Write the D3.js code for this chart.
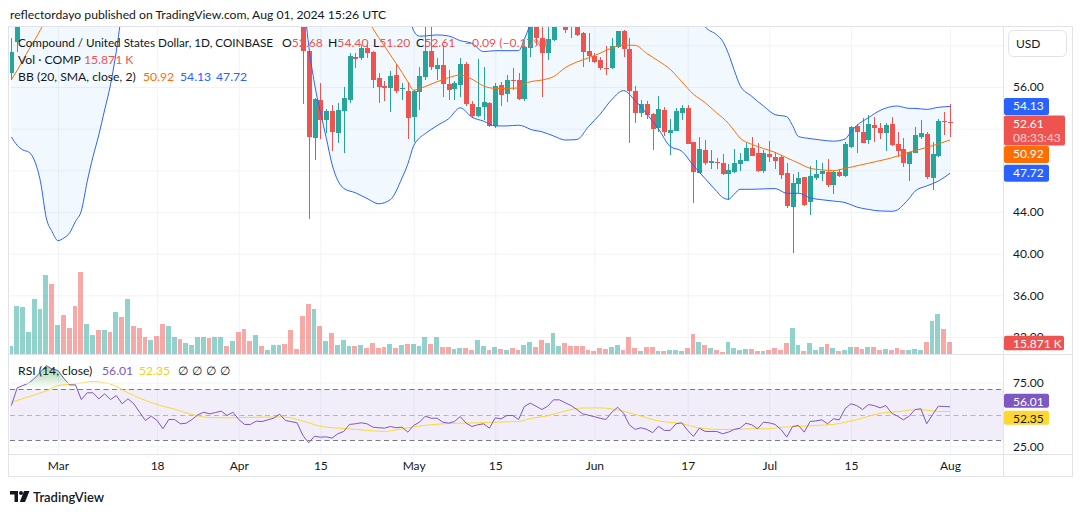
<!DOCTYPE html>
<html>
<head>
<meta charset="utf-8">
<title>COMP / USD</title>
<script src="https://cdn.jsdelivr.net/npm/d3@7"></script>
<style>
  body { margin: 0; background: #fff; }
  svg { display: block; }
  text { font-family: Lato, "Noto Sans", sans-serif; }
</style>
</head>
<body>
<svg id="chart" width="1080" height="515"></svg>
<script>
// ---------- data ----------
const firstDay = "2024-02-22";   // every daily series below starts here

// volume, thousands of COMP, one bar per day
const volumes = [
  10.7, 62.3, 61.0, 28.8, 71.3, 58.4, 102.3, 90.7, 37.8, 50.7,
  33.9, 62.3, 106.2, 39.1, 24.9, 31.3, 31.3, 28.8, 54.6, 48.1,
  71.3, 36.5, 33.9, 22.3, 18.4, 23.6, 39.1, 36.5, 22.3, 19.7,
  14.6, 12.0, 22.3, 22.3, 21.0, 22.3, 22.3, 10.7, 17.2, 28.8,
  32.6, 17.2, 24.9, 10.7, 5.5, 12.0, 12.0, 13.3, 31.3, 6.8,
  49.4, 64.9, 58.4, 36.5, 17.2, 27.5, 12.0, 18.4, 10.7, 10.7,
  12.0, 8.1, 14.6, 8.1, 9.4, 13.3, 8.1, 12.0, 13.3, 13.3,
  10.7, 22.3, 13.3, 22.3, 9.4, 9.4, 6.8, 8.1, 8.1, 5.5,
  18.4, 10.7, 5.5, 9.4,
  6.8, 5.5, 8.1, 5.5, 12.0, 15.9, 9.4, 18.4, 14.6, 27.5,
  10.7, 14.6, 10.7, 10.7, 10.7, 5.5, 4.3, 8.1, 6.8, 9.4,
  12.0, 5.5, 22.3, 8.1, 4.3, 9.4, 9.4, 4.3, 4.3, 5.5,
  5.5, 4.3, 8.1, 26.2, 15.9, 12.0, 8.1, 5.5, 3.0, 15.9,
  8.1, 5.5, 6.8, 6.8, 4.3, 4.3, 5.5, 8.1, 5.5, 14.6,
  33.9, 12.0, 4.3, 14.6, 5.5, 9.4, 13.3, 8.1, 4.3, 5.5,
  9.4, 9.4, 6.8, 9.4, 9.4, 5.5, 6.8, 5.5, 8.1, 5.5,
  5.5, 6.8, 5.5, 15.9, 43.0, 52.0, 32.6, 15.871
];
// g = up day, r = down day
const volumeDir =
  "gggggggrgr" + "rrrggrgrgr" + "grrrgrrggr" + "ggggrggrgr" + "rrgrgggrrr" +
  "rrgrgrgggr" + "grrrrgrgrg" + "ggrgrrggrr" + "ggrg" +
  "rgrrggrrgg" + "grrrrrrrrg" + "grrrgrrgrg" + "ggrrgrgrrg" + "gggrrgrrrr" +
  "ggrgggrgrg" + "grrgrrgrrr" + "gggrggrr";

// candles (null = above the visible price range, Feb 24 .. Apr 11)
const opens = [57.3, 60.35, ...Array(48).fill(null),
  63.0, 59.49, 51.1, 54.75, 52.83, 53.73, 51.6, 53.73, 54.75, 58.9, 58.75, 59.71, 59.33, 56.83, 56.1, 55.87, 57.15, 55.8, 55.65,
  53.15, 55.55, 56.99, 59.49, 57.7, 58.11, 56.29, 55.78, 56.19, 58.21, 54.37, 53.22, 54.05, 54.43, 52.26, 56.19, 55.33, 56.67, 56.67, 54.85,
  59.72, 62.6, 60.67, 59.24, 60.51, 62.3, 63.4, 62.4, 61.9, 61.21, 59.46,
  59.0, 58.59, 57.8, 57.8, 59.88, 61.41, 59.62, 55.65, 53.54, 54.37, 53.38, 52.04, 53.79, 51.61, 51.8, 53.54, 53.95, 50.69, 47.78, 49.95,
  48.67, 48.8, 48.67, 47.65, 47.88, 48.61, 48.93, 50.15, 49.7, 47.97,
  49.57, 49.31, 49.25, 47.72, 44.51, 46.69, 47.33, 44.99, 47.23, 47.65, 47.88, 46.6, 47.88, 47.46, 50.28, 52.26, 51.71, 50.91, 52.35, 52.1,
  51.55, 52.45, 50.53, 50.02, 48.61, 49.7, 51.23, 51.49, 47.3, 49.38, 52.77,
  52.68];
const highs = [60.7, 64.5, ...Array(48).fill(null),
  63.5, 59.6, 54.9, 56.35, 53.9, 54.27, 54.43, 55.97, 59.3, 59.3, 60.03, 60.19, 59.45, 57.38, 56.6, 57.57, 58.18, 56.35, 56.52,
  55.7, 57.96, 62.2, 62.4, 58.76, 60.03, 57.63, 56.6, 58.76, 58.44, 54.69, 58.66, 57.96, 54.6, 56.42, 56.52, 57.15, 57.8, 57.31, 60.5,
  63.5, 63.2, 62.5, 62.3, 63.0, 64.0, 63.8, 63.0, 62.6, 61.3, 61.15,
  59.24, 58.92, 59.94, 60.67, 61.38, 61.5, 60.67, 56.1, 54.75, 54.66, 53.54, 55.14, 54.05, 52.93, 53.95, 54.27, 54.27, 50.75, 51.17, 50.91,
  49.95, 49.21, 49.54, 48.61, 50.02, 49.7, 50.66, 51.17, 50.66, 49.95,
  50.85, 49.79, 49.47, 48.68, 47.65, 47.88, 47.4, 48.42, 48.99, 48.74, 49.06, 47.9, 48.1, 50.69, 52.26, 52.45, 53.0, 53.31, 53.15, 52.58,
  52.58, 53.09, 51.71, 51.07, 49.8, 52.2, 52.83, 51.71, 50.75, 52.9, 53.64,
  54.40];
const lows = [56.7, 59.4, ...Array(48).fill(null),
  54.4, 43.33, 48.99, 51.04, 51.6, 49.9, 50.65, 49.7, 54.43, 57.8, 58.6, 58.76, 55.87, 54.5, 54.66, 53.64, 55.46, 54.75, 50.98,
  50.75, 53.8, 56.67, 57.63, 56.67, 55.07, 54.75, 54.75, 55.07, 54.18, 53.15, 53.15, 52.83, 52.2, 52.04, 54.18, 54.59, 55.71, 54.75, 54.7,
  58.86, 60.0, 55.07, 58.6, 60.45, 62.0, 61.2, 60.67, 60.9, 57.96, 58.44,
  58.28, 57.63, 57.15, 57.75, 59.72, 58.86, 50.6, 52.58, 53.09, 52.9, 49.95, 51.71, 51.3, 49.47, 51.75, 52.83, 50.5, 44.84, 47.72, 48.51,
  48.13, 48.13, 47.6, 45.15, 47.78, 47.97, 48.9, 49.35, 47.88, 47.78,
  48.83, 48.1, 47.14, 44.35, 40.09, 45.8, 44.6, 43.71, 47.07, 47.0, 46.44, 45.73, 47.4, 47.33, 50.12, 49.64, 50.6, 50.5, 50.75, 50.98,
  49.89, 50.34, 49.31, 48.36, 47.0, 49.64, 51.0, 47.14, 46.11, 49.3, 51.39,
  51.20];
const closes = [59.4, 63.8, ...Array(48).fill(null),
  59.49, 51.17, 54.85, 52.83, 53.73, 51.71, 53.8, 54.91, 58.98, 58.7, 59.71, 59.3, 56.67, 56.03, 55.87, 57.06, 55.62, 55.87, 53.06,
  55.65, 57.06, 59.49, 57.89, 58.11, 56.29, 55.71, 56.42, 58.18, 54.37, 53.22, 54.05, 54.59, 52.26, 56.1, 55.23, 56.67, 56.58, 54.85, 59.81,
  62.6, 60.67, 59.3, 60.58, 62.3, 63.4, 61.47, 61.9, 61.0, 59.39, 59.0,
  58.44, 57.86, 57.73, 59.94, 61.38, 59.62, 55.65, 53.54, 54.37, 53.31, 52.0, 53.86, 51.71, 51.87, 53.7, 53.95, 50.53, 47.88, 50.02, 48.74,
  48.9, 48.67, 47.62, 48.03, 48.67, 48.99, 50.15, 49.38, 47.97, 49.7,
  49.31, 48.93, 47.55, 44.58, 46.76, 47.23, 44.67, 47.46, 47.65, 47.97, 46.6, 47.88, 47.46, 50.53, 52.14, 51.71, 50.66, 52.42, 52.1, 51.61,
  52.35, 50.43, 49.89, 48.74, 49.73, 51.39, 51.55, 47.39, 49.57, 52.74, 52.7,
  52.61];

// Bollinger bands (20, 2), read at these dates of 2024
const bbDates = ["02-22","02-23","02-24","02-25","02-26","02-27","02-28","02-29",
  "03-01","03-02","03-03","03-04","03-05","03-06","03-07","03-08","03-09","03-10","03-11","03-12",
  "03-20","04-01","04-08","04-11","04-12","04-13","04-14","04-15","04-16","04-17",
  "04-19","04-21","04-23","04-25","04-27","04-29","04-30","05-01","05-02","05-03",
  "05-05","05-07","05-09","05-11","05-13","05-15","05-17","05-19","05-20","05-21",
  "05-23","05-25","05-27","05-29","05-31","06-02","06-04","06-06","06-08","06-10",
  "06-12","06-14","06-16","06-18","06-20","06-22","06-23","06-24","06-25","06-26",
  "06-28","06-30","07-02","07-04","07-05","07-06","07-08","07-10","07-12","07-14",
  "07-15","07-16","07-18","07-20","07-22","07-23","07-24","07-25","07-26","07-28","07-30","08-01"];
const bbUpper = [62.3, 64.8, 67.2, 69.5, 72, 76, 81.6, 85,
  88, 90, 92, 93, 94, 93, 93, 93, 92, 92, 91, 89,
  90, 90, 86, 84, 82, 82, 83, 84, 85, 85,
  85, 83, 80, 76, 72, 67, 64, 61.4, 60.88, 60.9,
  61.0, 60.9, 60.45, 60.2, 59.4, 59.49, 59.49, 59.49, 60.6, 62.0,
  64.5, 66, 67, 67, 67, 66.5, 66, 65.5, 65.5, 66,
  66, 65.5, 65, 64, 61.8, 61.0, 60.4, 59.2, 57.6, 56.15,
  55.1, 54.18, 53.35, 53.15, 52.3, 51.25, 51.05, 50.9, 50.8, 51.0,
  51.7, 52.3, 53.05, 53.75, 54.12, 54.18, 54.05, 53.95, 53.95, 53.85, 54.05, 54.13];
const bbMiddle = [56.7, 57.6, 58.6, 59.6, 60.5, 61.5, 62.5, 63.5,
  64.6, 65.8, 67, 68, 69, 70, 71, 72, 73, 74, 75, 76,
  80, 80, 76, 73, 72, 71, 70.1, 69.3, 68.5, 67.6,
  65.9, 64.2, 62.5, 60.75, 59.1, 57.4, 56.5, 55.7, 55.85, 56.05,
  56.5, 56.9, 57.15, 56.75, 56.1, 55.87, 55.87, 55.9, 56.3, 56.5,
  56.67, 57.0, 57.85, 58.4, 58.8, 59.25, 59.75, 60.03, 60.0, 59.22,
  58.5, 57.7, 56.5, 55.3, 54.5, 53.5, 53.05, 52.5, 51.8, 51.1,
  50.5, 50.1, 49.72, 49.2, 48.95, 48.7, 48.2, 48.05, 47.97, 48.19,
  48.3, 48.43, 48.68, 48.93, 49.2, 49.38, 49.55, 49.75, 49.9, 50.2, 50.53, 50.92];
const bbLower = [51.2, 50.4, 49.95, 49.75, 48.9, 46.9, 43.4, 42.1,
  41.25, 41.5, 42.0, 43.1, 44.1, 46.9, 49.3, 51.4, 53.8, 56.2, 59.4, 63,
  70, 70, 68, 67, 65, 59.97, 56.3, 53.6, 51.15, 48.6,
  46.27, 45.85, 45.3, 44.79, 45.18, 47.25, 48.6, 50.36, 51.1, 51.53,
  52.29, 52.95, 54.0, 53.1, 52.72, 52.26, 52.26, 52.33, 52.2, 51.94,
  51.7, 51.3, 50.91, 50.96, 52.2, 53.4, 54.8, 55.65, 54.7, 53.41,
  51.96, 50.3, 49.83, 48.46, 47.21, 45.97, 45.39, 45.22, 45.72, 46.18,
  46.18, 46.22, 46.25, 45.8, 45.8, 45.8, 45.35, 45.18, 45.05, 44.9,
  44.7, 44.48, 44.25, 44.1, 44.07, 44.2, 44.7, 45.3, 46.0, 46.5, 46.97, 47.72];

// RSI (14), one value per day from firstDay
const rsiValues = [
  57.0, 70.9, 72.8, 74.7, 78.5, 83.4, 88.4, 85.6,
  84.6, 78.4, 73.2, 73.2, 61.7, 67.0, 67.0, 62.3, 66.2, 61.7, 64.9, 58.4, 62.3, 58.4, 51.8, 45.3, 48.7, 45.3,
  38.8, 46.1, 46.1, 42.7, 43.2, 46.1, 49.8, 51.8, 50.5, 51.6, 52.6, 49.2, 51.8,
  46.1, 42.2, 42.2, 44.8, 44.5, 45.8, 47.1, 50.3, 45.3, 44.4, 43.5, 33.6, 27.8, 33.0, 32.2, 32.5, 31.5, 34.9,
  36.7, 42.2, 42.7, 43.5, 42.7, 40.1, 39.6, 39.3, 40.6, 39.6, 40.1, 36.2,
  41.4, 44.0, 48.7, 47.1, 47.1, 44.0, 43.2, 44.5, 48.4, 43.2, 40.6, 41.9, 42.7, 39.3, 47.4, 46.6, 49.2, 49.2,
  46.1, 56.3, 58.9, 56.5, 53.9, 56.5, 61.5, 61.5, 59.2, 57.0, 53.9, 50.5, 49.4,
  48.3, 47.0, 46.1, 51.8, 55.7, 51.0, 41.9, 38.3, 39.6, 38.3, 35.7, 40.8, 37.5, 37.5, 42.7, 43.5, 37.5, 32.8,
  39.3, 36.7, 36.7, 36.7, 34.9, 36.2, 38.3, 39.3, 43.2, 41.9, 38.8, 44.0,
  43.5, 42.2, 38.3, 32.3, 40.6, 41.4, 36.2, 44.5, 45.0, 45.8, 42.7, 46.6, 45.8, 54.5, 58.4, 57.0, 53.9, 57.8,
  57.0, 55.2, 57.0, 51.0, 48.7, 45.8, 48.7, 53.9, 54.5, 42.7, 49.8, 56.5, 56.3,
  56.01];
// RSI moving average, read at these dates of 2024
const rsiMaDates = ["02-22","02-25","02-28","03-01","03-04","03-07","03-09","03-11","03-13","03-15",
  "03-18","03-21","03-24","03-27","03-30","04-02","04-05","04-08","04-10","04-12",
  "04-15","04-18","04-21","04-24","04-26","04-28","05-01","05-04","05-06","05-09",
  "05-12","05-15","05-19","05-21","05-24","05-27","05-30","06-02","06-05","06-09",
  "06-12","06-16","06-19","06-22","06-25","06-28","07-01","07-03","07-06","07-09",
  "07-12","07-14","07-16","07-18","07-21","07-23","07-26","07-28","07-30","08-01"];
const rsiMaValues = [59.6, 64.0, 68.5, 72.6, 74.0, 75.8, 75.0, 72.0, 67.0, 62.9,
  57.8, 54.2, 50.0, 47.6, 47.4, 47.7, 47.9, 48.1, 47.3, 44.9,
  40.8, 39.3, 38.3, 37.2, 36.7, 38.0, 40.4, 42.0, 42.7, 43.2,
  43.5, 44.0, 44.5, 46.8, 49.0, 52.8, 55.1, 55.2, 53.5, 48.7,
  45.0, 42.8, 39.4, 38.3, 38.3, 38.8, 38.8, 40.0, 40.6, 41.4,
  42.2, 43.9, 46.0, 48.6, 51.6, 52.2, 53.8, 53.4, 52.4, 52.35];

const priceTicks = [60, 56, 52, 48, 44, 40, 36, 32];   // grid lines
const priceLabels = [56, 44, 40, 36, 32];               // labels not hidden by badges
const rsiTicks = [75, 25];
const tickDates = ["2024-03-01","2024-03-18","2024-04-01","2024-04-15","2024-05-01","2024-05-15",
  "2024-06-01","2024-06-17","2024-07-01","2024-07-15","2024-08-01"];
const tickLabels = ["Mar","18","Apr","15","May","15","Jun","17","Jul","15","Aug"];

const lastOhlc = [52.68, 54.40, 51.20, 52.61];
const lastChange = "\u22120.09 (\u22120.17%)";
const lastVolume = "15.871 K";
const bbLast = [50.92, 54.13, 47.72];
const rsiLast = [56.01, 52.35];
const countdown = "08:33:43";

// ---------- setup ----------
const UP = "#26a69a", DOWN = "#ef5350";
const BLUE = "#2962ff", ORANGE = "#ff6d00", PURPLE = "#7e57c2", YELLOW = "#fdd835";
const GRID = "#f0f3fa", BORDER = "#e0e3eb", INK = "#131722";
const LEGEND_SIZE = 12.2;

const parseDay = d3.utcParse("%Y-%m-%d");
const start = parseDay(firstDay);
const dayAt = i => d3.utcDay.offset(start, i);
const md = s => parseDay("2024-" + s);

const paneL = 10, paneR = 1003, mainT = 27, mainB = 354, rsiT = 355, rsiB = 454;

const x = d3.scaleUtc().domain([parseDay("2024-03-01"), parseDay("2024-08-01")]).range([58, 950]);
const y = d3.scaleLinear().domain([56, 44]).range([87, 212]);
const yVol = d3.scaleLinear().domain([0, 100]).range([mainB, mainB - 77.5]);
const yRsi = d3.scaleLinear().domain([70, 30]).range([389, 440]);

const svg = d3.select("#chart");
const defs = svg.append("defs");
function clip(id, x0, y0, w, h) {
  defs.append("clipPath").attr("id", id).append("rect")
    .attr("x", x0).attr("y", y0).attr("width", w).attr("height", h);
}
clip("clipMain", paneL, mainT, paneR - paneL, mainB - mainT);
clip("clipRsi", paneL, rsiT, paneR - paneL, rsiB - rsiT);
clip("clipOb", paneL, rsiT, paneR - paneL, yRsi(70) - rsiT);
clip("clipOs", paneL, yRsi(30), paneR - paneL, rsiB - yRsi(30));

function vGrad(id, y1, y2, color, a1, a2) {
  const g = defs.append("linearGradient").attr("id", id)
    .attr("gradientUnits", "userSpaceOnUse").attr("x1", 0).attr("x2", 0).attr("y1", y1).attr("y2", y2);
  g.append("stop").attr("offset", 0).attr("stop-color", color).attr("stop-opacity", a1);
  g.append("stop").attr("offset", 1).attr("stop-color", color).attr("stop-opacity", a2);
}
vGrad("obGrad", yRsi(90), yRsi(70), "#4caf50", 0.6, 0.0);
vGrad("osGrad", yRsi(10), yRsi(30), "#f23645", 0.6, 0.0);

// header
svg.append("text").attr("x", 10).attr("y", 18.5).attr("font-size", LEGEND_SIZE).attr("fill", INK)
  .text("reflectordayo published on TradingView.com, Aug 01, 2024 15:26 UTC");

// ---------- grid ----------
const tickD = tickDates.map(parseDay);
svg.append("g").attr("transform", `translate(0,${rsiB})`)
  .call(d3.axisBottom(x).tickValues(tickD).tickSize(-(rsiB - mainT)).tickFormat(""))
  .call(g => g.select(".domain").remove())
  .call(g => g.selectAll("line").attr("stroke", GRID));
svg.append("g").attr("transform", `translate(${paneR},0)`)
  .call(d3.axisRight(y).tickValues(priceTicks).tickSize(-(paneR - paneL)).tickFormat(""))
  .call(g => g.select(".domain").remove())
  .call(g => g.selectAll("line").attr("stroke", GRID));

// ---------- main pane ----------
const main = svg.append("g").attr("clip-path", "url(#clipMain)");
const bb = bbDates.map((d, i) => ({ d: md(d), u: bbUpper[i], m: bbMiddle[i], l: bbLower[i] }));

main.append("path").datum(bb)
  .attr("fill", "rgba(33,150,243,0.06)")
  .attr("d", d3.area().curve(d3.curveMonotoneX).x(p => x(p.d)).y0(p => y(p.l)).y1(p => y(p.u)));

// volume
const spacing = x(dayAt(1)) - x(dayAt(0));
main.append("g").selectAll("rect").data(volumes).join("rect")
  .attr("shape-rendering", "crispEdges")
  .attr("x", (v, i) => Math.round(x(dayAt(i)) - spacing / 2))
  .attr("width", (v, i) => Math.round(x(dayAt(i + 1)) - spacing / 2) - Math.round(x(dayAt(i)) - spacing / 2) - 1)
  .attr("y", v => yVol(v))
  .attr("height", v => mainB - yVol(v))
  .attr("fill", (v, i) => volumeDir[i] === "g" ? "rgba(38,166,154,0.5)" : "rgba(239,83,80,0.5)");

// candles
const candles = opens.map((o, i) => ({ d: dayAt(i), o, h: highs[i], l: lows[i], c: closes[i] }))
  .filter(k => k.o !== null);
const col = k => k.c >= k.o ? UP : DOWN;
const cg = main.append("g").attr("shape-rendering", "crispEdges");
cg.selectAll("line").data(candles).join("line")
  .attr("x1", k => Math.round(x(k.d)) + 0.5).attr("x2", k => Math.round(x(k.d)) + 0.5)
  .attr("y1", k => y(k.h)).attr("y2", k => y(k.l))
  .attr("stroke", col);
cg.selectAll("rect").data(candles).join("rect")
  .attr("x", k => Math.round(x(k.d)) - 2).attr("width", 5)
  .attr("y", k => y(Math.max(k.o, k.c)))
  .attr("height", k => Math.max(1, Math.abs(y(k.o) - y(k.c))))
  .attr("fill", col);

// band lines
[["u", BLUE], ["l", BLUE], ["m", ORANGE]].forEach(([key, c]) => {
  main.append("path").datum(bb).attr("fill", "none").attr("stroke", c).attr("stroke-width", 1)
    .attr("d", d3.line().curve(d3.curveMonotoneX).x(p => x(p.d)).y(p => y(p[key])));
});

// ---------- RSI pane ----------
const rsiG = svg.append("g").attr("clip-path", "url(#clipRsi)");
rsiG.append("rect").attr("x", paneL).attr("width", paneR - paneL)
  .attr("y", yRsi(70)).attr("height", yRsi(30) - yRsi(70)).attr("fill", "rgba(126,87,194,0.1)");
svg.append("g").attr("transform", `translate(${paneR},0)`)
  .call(d3.axisRight(yRsi).tickValues(rsiTicks).tickSize(-(paneR - paneL)).tickFormat(""))
  .call(g => g.select(".domain").remove())
  .call(g => g.selectAll("line").attr("stroke", GRID));
[[70, 1], [50, 0.5], [30, 1]].forEach(([lv, op]) => {
  rsiG.append("line").attr("x1", paneL).attr("x2", paneR)
    .attr("y1", Math.round(yRsi(lv)) + 0.5).attr("y2", Math.round(yRsi(lv)) + 0.5)
    .attr("stroke", "#787b86").attr("stroke-opacity", op).attr("stroke-dasharray", "5,3.5");
});
const rsiPts = rsiValues.map((v, i) => ({ d: dayAt(i), v }));
rsiG.append("g").attr("clip-path", "url(#clipOb)").append("path").datum(rsiPts)
  .attr("fill", "url(#obGrad)")
  .attr("d", d3.area().x(p => x(p.d)).y0(yRsi(70)).y1(p => yRsi(p.v)));
rsiG.append("g").attr("clip-path", "url(#clipOs)").append("path").datum(rsiPts)
  .attr("fill", "url(#osGrad)")
  .attr("d", d3.area().x(p => x(p.d)).y0(yRsi(30)).y1(p => yRsi(p.v)));
rsiG.append("path").datum(rsiMaDates.map((d, i) => ({ d: md(d), v: rsiMaValues[i] })))
  .attr("fill", "none").attr("stroke", YELLOW).attr("stroke-width", 1)
  .attr("d", d3.line().curve(d3.curveMonotoneX).x(p => x(p.d)).y(p => yRsi(p.v)));
rsiG.append("path").datum(rsiPts)
  .attr("fill", "none").attr("stroke", PURPLE).attr("stroke-width", 1)
  .attr("d", d3.line().x(p => x(p.d)).y(p => yRsi(p.v)));

// ---------- frame ----------
const frame = svg.append("g").attr("stroke", BORDER).attr("shape-rendering", "crispEdges");
[[8, 26.5, 1073, 26.5], [8, 476.5, 1073, 476.5], [8.5, 26, 8.5, 477], [1072.5, 26, 1072.5, 477],
 [paneR + 0.5, 26, paneR + 0.5, 477], [8, mainB + 0.5, 1073, mainB + 0.5], [8, rsiB + 0.5, 1073, rsiB + 0.5]]
  .forEach(([a, b, c, d]) => frame.append("line").attr("x1", a).attr("y1", b).attr("x2", c).attr("y2", d));

// ---------- axes ----------
function styleAxis(g) {
  g.select(".domain").remove();
  g.attr("font-size", 12).attr("color", INK);
}
svg.append("g").attr("transform", `translate(${paneR},0)`)
  .call(d3.axisRight(y).tickValues(priceLabels).tickSize(0).tickPadding(10).tickFormat(d3.format(".2f")))
  .call(styleAxis);
svg.append("g").attr("transform", `translate(${paneR},0)`)
  .call(d3.axisRight(yRsi).tickValues(rsiTicks).tickSize(0).tickPadding(10).tickFormat(d3.format(".2f")))
  .call(styleAxis);
svg.append("g").attr("transform", `translate(0,${rsiB + 1})`)
  .call(d3.axisBottom(x).tickValues(tickD).tickSize(0).tickPadding(6).tickFormat((d, i) => tickLabels[i]))
  .call(styleAxis);

// USD button
svg.append("rect").attr("x", 1008.5).attr("y", 30.5).attr("width", 58).attr("height", 26).attr("rx", 5)
  .attr("fill", "#fff").attr("stroke", BORDER);
svg.append("text").attr("x", 1016).attr("y", 48).attr("font-size", 12).attr("fill", INK).text("USD");

// price badges
function badge(top, h, w, bg, fg, lines) {
  const g = svg.append("g");
  g.append("rect").attr("x", paneR + 1).attr("y", top).attr("width", w).attr("height", h).attr("rx", 2).attr("fill", bg);
  lines.forEach((t, i) => g.append("text").attr("x", paneR + 10).attr("y", top + 12.5 + i * 14)
    .attr("font-size", 12).attr("fill", i ? "rgba(255,255,255,0.75)" : fg).text(t));
}
const mainBadges = [
  { v: bbLast[1], bg: BLUE, h: 17, w: 45, lines: [bbLast[1].toFixed(2)] },
  { v: lastOhlc[3], bg: DOWN, h: 30, w: 61, lines: [lastOhlc[3].toFixed(2), countdown] },
  { v: bbLast[0], bg: ORANGE, h: 17, w: 45, lines: [bbLast[0].toFixed(2)] },
  { v: bbLast[2], bg: BLUE, h: 17, w: 45, lines: [bbLast[2].toFixed(2)] }
];
let bottom = -Infinity;
mainBadges.forEach(b => {
  const top = Math.max(y(b.v) - 8.5, bottom + 0.5);
  bottom = top + b.h;
  badge(top, b.h, b.w, b.bg, "#fff", b.lines);
});
badge(yVol(volumes[volumes.length - 1]) - 6, 14.5, 60, DOWN, "#fff", [lastVolume]);
const rsiMid = (yRsi(rsiLast[0]) + yRsi(rsiLast[1])) / 2;
badge(Math.min(yRsi(rsiLast[0]), rsiMid - 8.5) - 7, 14, 45, PURPLE, "#fff", [rsiLast[0].toFixed(2)]);
badge(Math.max(yRsi(rsiLast[1]), rsiMid + 8.5) - 7, 14, 45, YELLOW, INK, [rsiLast[1].toFixed(2)]);

// ---------- legends ----------
const leg = svg.append("g").attr("font-size", LEGEND_SIZE);
function put(xp, yp, txt, c) { return leg.append("text").attr("x", xp).attr("y", yp).attr("fill", c).text(txt); }
put(18, 46.5, "Compound / United States Dollar, 1D, COINBASE", INK)
  .attr("textLength", 255).attr("lengthAdjust", "spacingAndGlyphs");
["O", "H", "L", "C"].forEach((k, i) => {
  const xs = [282, 328, 373, 416][i];
  leg.append("text").attr("x", xs).attr("y", 46.5).attr("fill", INK).text(k)
    .append("tspan").attr("fill", DOWN).text(lastOhlc[i].toFixed(2));
});
put(465, 46.5, lastChange, DOWN);
put(18, 63.5, "Vol \u00b7 COMP", INK);
put(84, 63.5, lastVolume, DOWN);
put(18, 80.5, "BB (20, SMA, close, 2)", INK);
put(143, 80.5, bbLast[0].toFixed(2), ORANGE);
put(180, 80.5, bbLast[1].toFixed(2), BLUE);
put(216, 80.5, bbLast[2].toFixed(2), BLUE);
put(18, 374.5, "RSI (14, close)", INK);
put(102, 374.5, rsiLast[0].toFixed(2), PURPLE);
put(139, 374.5, rsiLast[1].toFixed(2), "#f5d10f");
[178, 192, 206, 220].forEach(xp => put(xp, 374.5, "\u2205", INK));

// ---------- footer logo ----------
const logo = svg.append("g").attr("transform", "translate(10,491)").attr("fill", INK);
logo.append("path").attr("d", "M0 0 H8 V11 H4.5 V3.5 H0 Z");
logo.append("circle").attr("cx", 11).attr("cy", 2).attr("r", 2);
logo.append("path").attr("d", "M14 0 H19.5 L15 11 H9.8 Z");
svg.append("text").attr("x", 33).attr("y", 502).attr("font-size", 13).attr("font-weight", 600)
  .attr("fill", INK).text("TradingView");
</script>
</body>
</html>
